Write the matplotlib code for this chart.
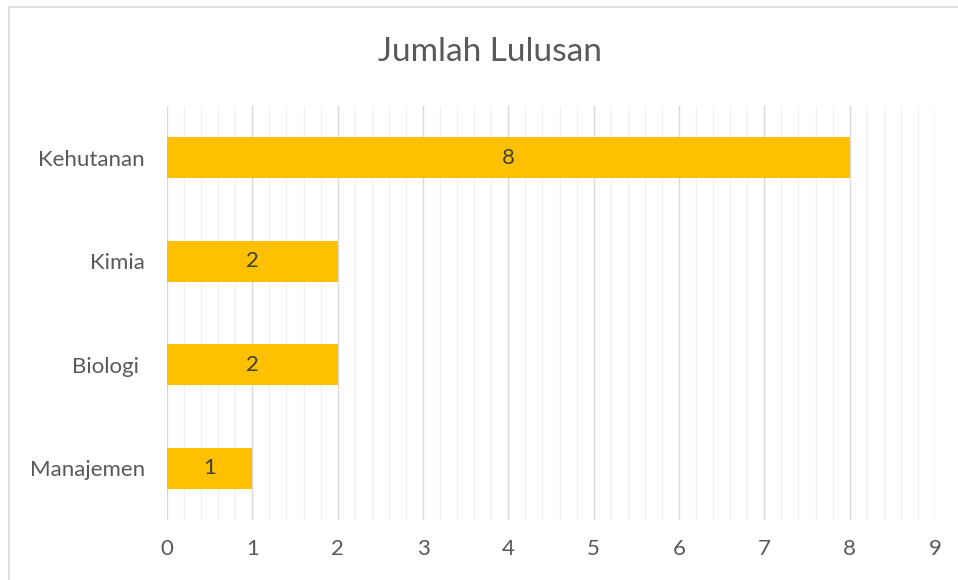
import matplotlib.pyplot as plt
from matplotlib.patches import Rectangle
import numpy as np

categories = ['Manajemen', 'Biologi ', 'Kimia', 'Kehutanan']
values = [1, 2, 2, 8]
x_ticks = list(range(0, 10))

plt.rcParams['font.family'] = ['Lato', 'DejaVu Sans']

fig = plt.figure(figsize=(9.58, 5.80), dpi=100)
# chart border (light gray) like the Excel chart frame
fig.patches.append(Rectangle((9 / 958, -0.1), 1.2, 1 - 7 / 580 + 0.1,
                             transform=fig.transFigure, fill=False,
                             edgecolor='#d9d9d9', linewidth=1.2))

ax = fig.add_axes([167 / 958, 1 - 520 / 580, (935 - 167) / 958, (520 - 106) / 580])
y = np.arange(len(categories))
bars = ax.barh(y, values, height=0.4, color='#FFC000', zorder=3)

for rect, v in zip(bars, values):
    ax.text(rect.get_width() / 2, rect.get_y() + rect.get_height() / 2, str(v),
            ha='center', va='center', fontsize=16, color='#404040', zorder=4)

ax.set_xlim(0, 9)
ax.set_ylim(-0.5, len(categories) - 0.5)
ax.set_xticks(x_ticks)
ax.set_xticks(np.arange(0, 9.01, 0.2), minor=True)
ax.set_yticks(y)
ax.set_yticklabels(categories)
ax.grid(axis='x', which='minor', color='#f2f2f2', linewidth=1.0, zorder=0)
ax.grid(axis='x', which='major', color='#d9d9d9', linewidth=1.0, zorder=1)
ax.tick_params(axis='both', which='both', length=0, labelsize=16, labelcolor='#595959')
ax.tick_params(axis='x', pad=14)
ax.tick_params(axis='y', pad=16)
for s in ax.spines.values():
    s.set_visible(False)

fig.text(490 / 958, 1 - 52 / 580, 'Jumlah Lulusan', ha='center', va='center',
         fontsize=24, color='#595959')

fig.savefig('out.png', dpi=100)
